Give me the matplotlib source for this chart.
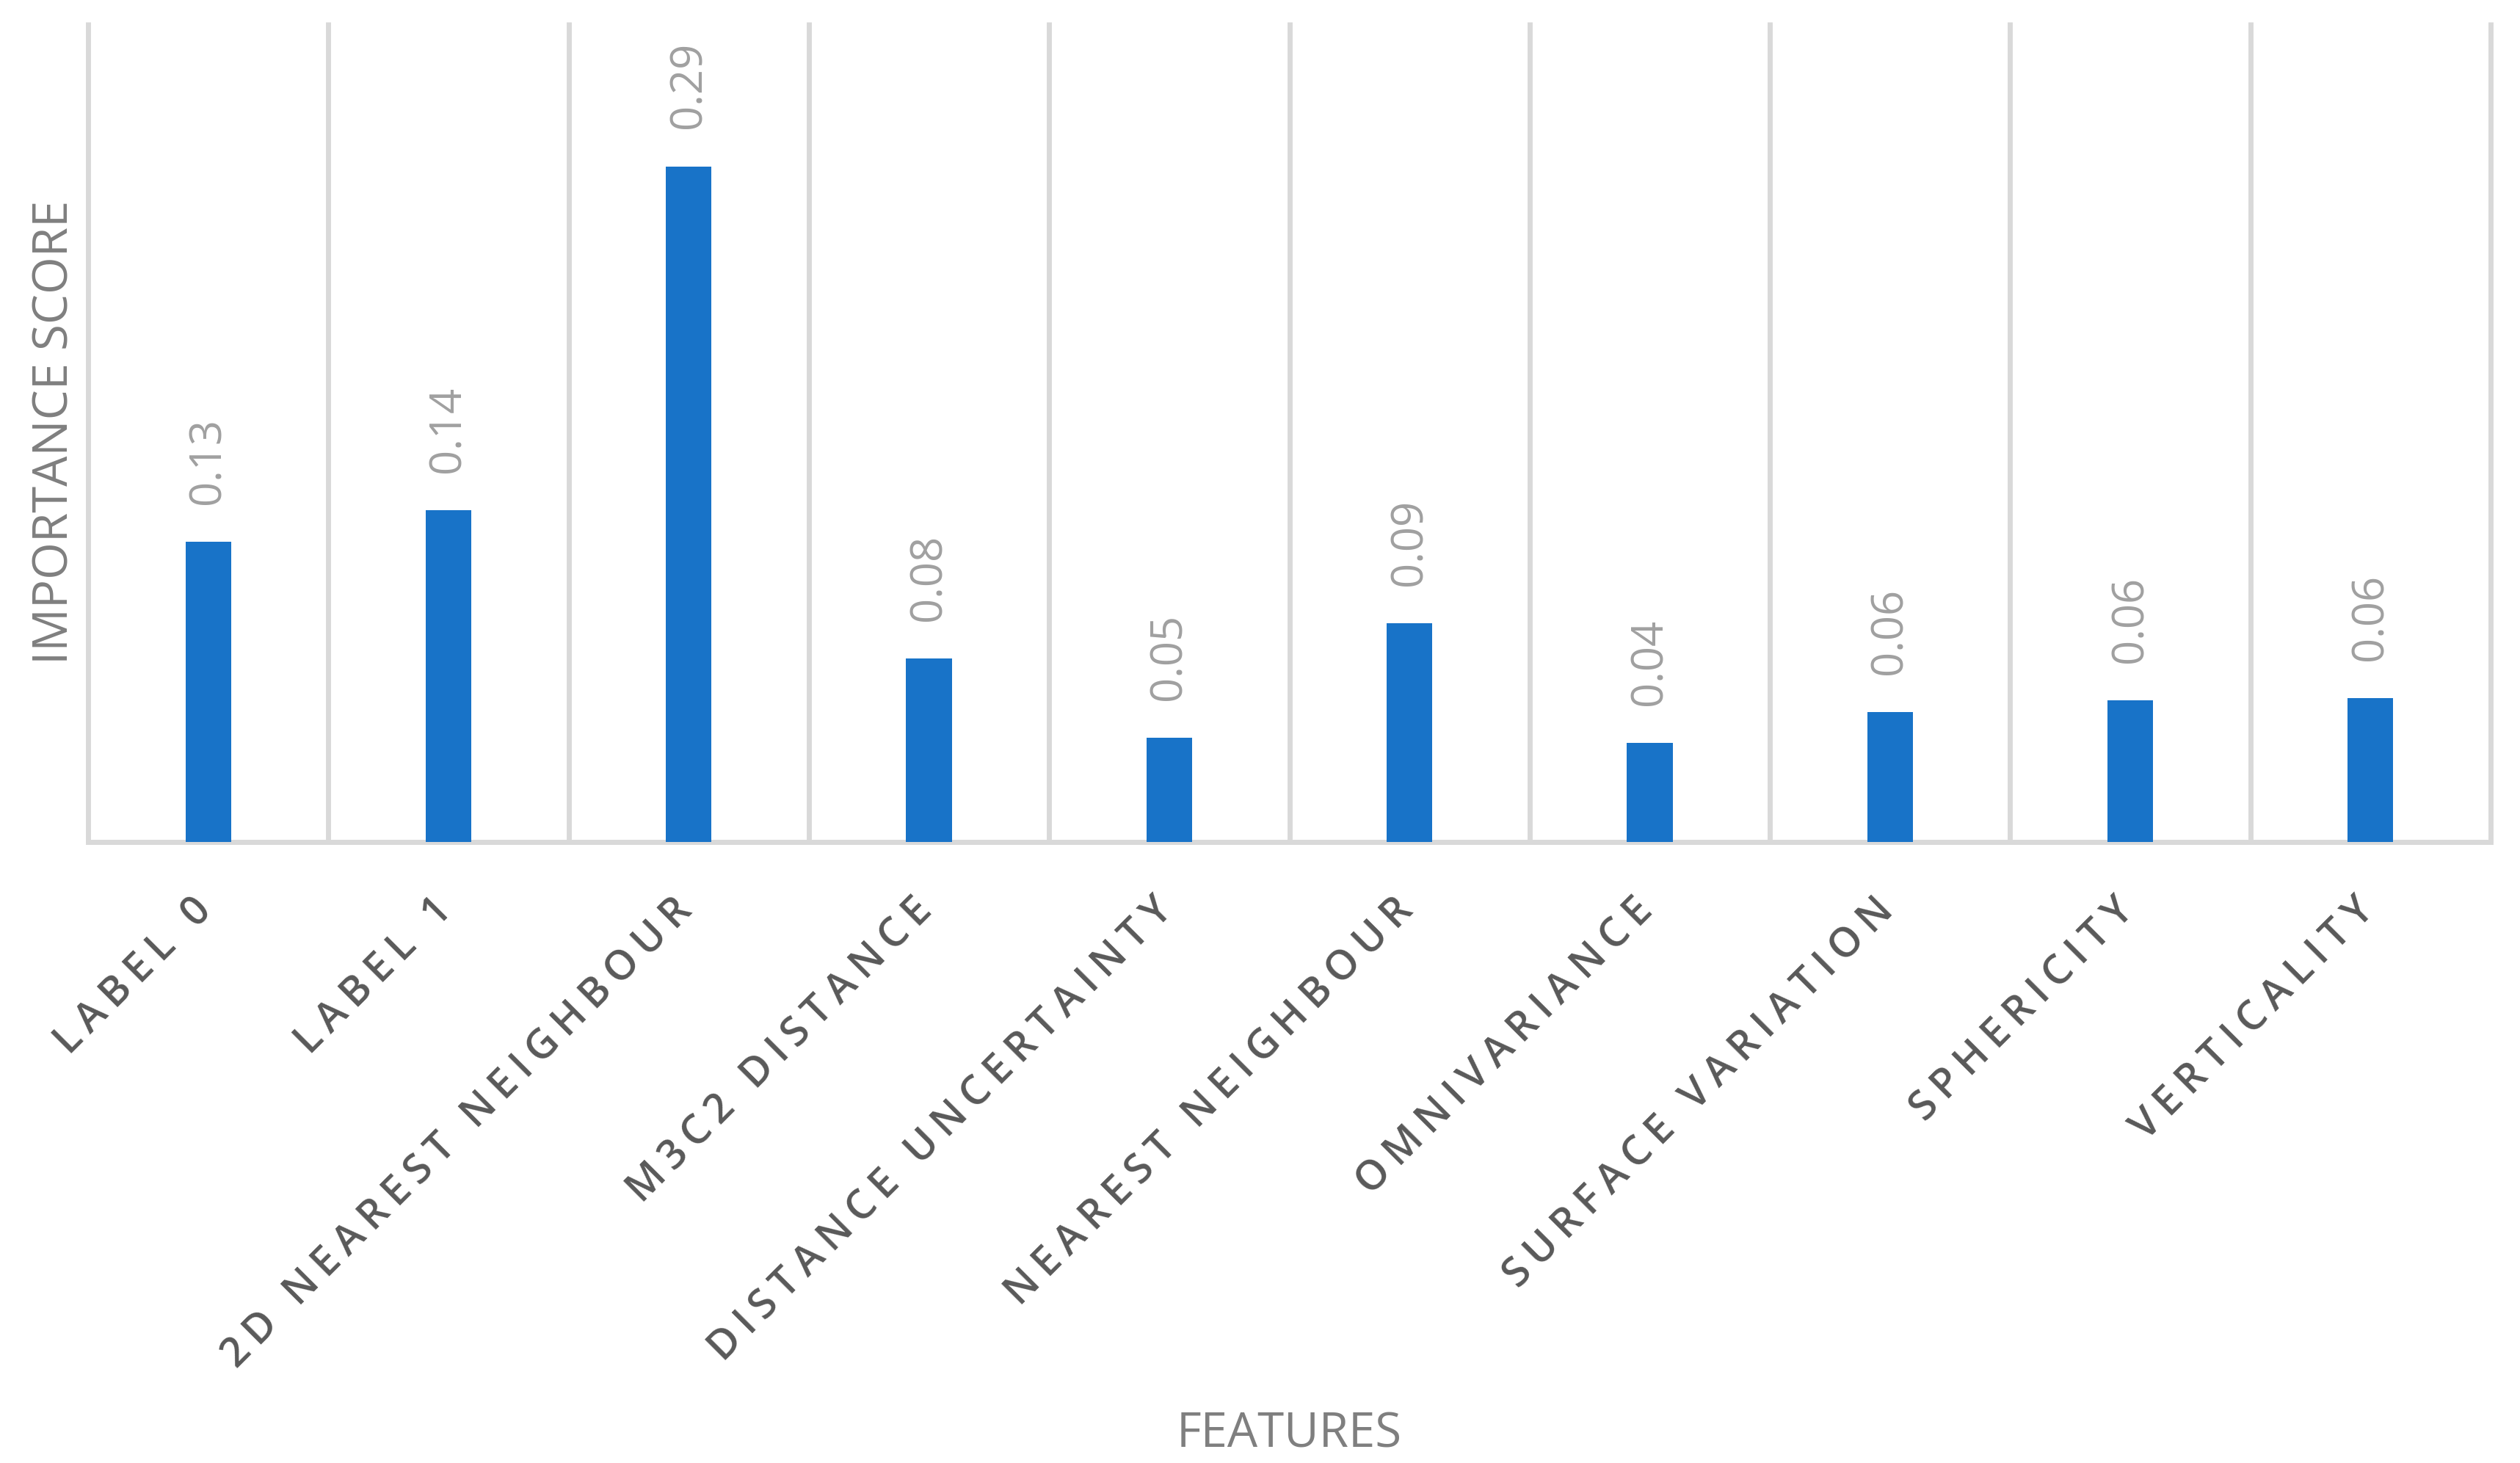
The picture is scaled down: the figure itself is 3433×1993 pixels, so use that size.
import matplotlib
matplotlib.use("Agg")
import matplotlib.pyplot as plt
from matplotlib.transforms import ScaledTranslation
import numpy as np

features = [
    "LABEL 0",
    "LABEL 1",
    "2D NEAREST NEIGHBOUR",
    "M3C2 DISTANCE",
    "DISTANCE UNCERTAINTY",
    "NEAREST NEIGHBOUR",
    "OMNIVARIANCE",
    "SURFACE VARIATION",
    "SPHERICITY",
    "VERTICALITY",
]
scores = [0.130, 0.1435, 0.2925, 0.0794, 0.0451, 0.0946, 0.0429, 0.0562, 0.0613, 0.0622]
score_labels = ["0.13", "0.14", "0.29", "0.08", "0.05", "0.09", "0.04", "0.06", "0.06", "0.06"]

bar_color = "#1873C8"
grid_color = "#D9D9D9"


def spaced(s):
    # excel-style letter spacing with hair spaces
    return "\u200a\u200a".join(s)


fig = plt.figure(figsize=(34.33, 19.93), dpi=100)
ax = fig.add_axes([0.03496, 0.42449, 0.95339, 0.56046])

x = np.arange(len(features))
ax.bar(x, scores, width=0.19, color=bar_color, zorder=3)

ax.set_xlim(-0.5, len(features) - 0.5)
ax.set_ylim(0, 0.355)

# category separators
ax.vlines(np.arange(len(features) + 1) - 0.5, 0, 0.355, color=grid_color,
          linewidth=5, clip_on=False, zorder=1)

for s in ["top", "right", "left"]:
    ax.spines[s].set_visible(False)
ax.spines["bottom"].set_color(grid_color)
ax.spines["bottom"].set_linewidth(5)
ax.set_yticks([])

for xi, v, lab in zip(x, scores, score_labels):
    ax.annotate(lab, (xi, v), xytext=(0, 37), textcoords="offset points",
                rotation=90, ha="center", va="bottom", fontsize=43,
                color="#A0A0A0", family=["Open Sans", "DejaVu Sans"])

ax.set_xticks(x)
ax.set_xticklabels([spaced(f) for f in features], rotation=45, ha="right",
                   va="baseline", rotation_mode="anchor", fontsize=40,
                   color="#595959", fontweight="semibold",
                   family=["Open Sans", "DejaVu Sans"])
ax.tick_params(axis="x", length=0, pad=69)
for lbl in ax.get_xticklabels():
    lbl.set_transform(lbl.get_transform() + ScaledTranslation(0.07, 0, fig.dpi_scale_trans))

fig.text(0.0219, 0.7045, "IMPORTANCE SCORE", rotation=90, ha="center", va="center",
         fontsize=47, color="#7F7F7F", family=["Open Sans", "DejaVu Sans"])
fig.text(0.5117, 0.01054, "FEATURES", ha="center", va="baseline",
         fontsize=47, color="#7F7F7F", family=["Open Sans", "DejaVu Sans"])

fig.savefig("out.png", dpi=100)
